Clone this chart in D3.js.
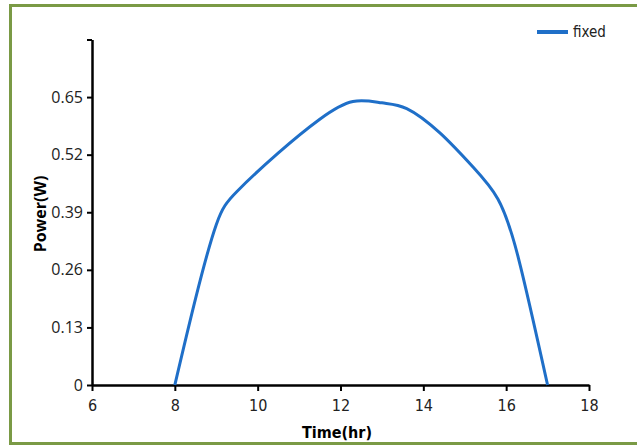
<!DOCTYPE html>
<html>
<head>
<meta charset="utf-8">
<script src="https://cdn.jsdelivr.net/npm/d3@7"></script>
<style>
  body { margin: 0; background: #fff; }
  .yax .tick text { font-family: "Open Sans", sans-serif; font-size: 16px; fill: #222; }
  .xax .tick text { font-family: "DejaVu Sans Condensed", "Open Sans", sans-serif; font-size: 16px; fill: #222; }
</style>
</head>
<body>
<div id="chart"></div>
<script>
// power curve
var hours = [8, 8.5, 9.0, 9.5, 10.5, 11.5, 12.3, 13.0, 13.6, 14.4, 15.2, 15.8, 16.3, 17]
var power = [0, 0.195, 0.362, 0.437, 0.524, 0.6, 0.64, 0.637, 0.624, 0.569, 0.492, 0.42, 0.285, 0]
var xTicks = [6, 8, 10, 12, 14, 16, 18]
var yTicks = [0, 0.13, 0.26, 0.39, 0.52, 0.65, 0.78]
var seriesName = 'fixed'

var width = 637, height = 446
var svg = d3.select('#chart')
    .append('svg')
    .attr('width', width)
    .attr('height', height)

// frame
svg.append('path')
    .attr('d', 'M637,5.5 H10.5 V443.5 H637')
    .attr('fill', 'none')
    .attr('stroke', '#7a9a45')
    .attr('stroke-width', 3)

var x = d3.scaleLinear().domain([6, 18]).range([92, 589])
var y = d3.scaleLinear().domain([0, 0.78]).range([385, 39.5])

svg.append('g')
    .attr('class', 'xax')
    .attr('transform', 'translate(0,385)')
    .call(d3.axisBottom(x).tickValues(xTicks).tickSize(6).tickPadding(9).tickSizeOuter(0))
svg.append('g')
    .attr('class', 'yax')
    .attr('transform', 'translate(92,0)')
    .call(d3.axisLeft(y).tickValues(yTicks).tickSize(5).tickPadding(4).tickSizeOuter(0)
        .tickFormat(d => d === 0.78 ? '' : (d === 0 ? '0' : d3.format('.2f')(d))))

svg.selectAll('.domain').attr('stroke', '#000').attr('stroke-width', 2.5)
svg.selectAll('.tick line').attr('stroke', '#000').attr('stroke-width', 2)

var line = d3.line()
    .x((d, i) => x(hours[i]))
    .y(d => y(d))
    .curve(d3.curveNatural)

svg.append('path')
    .datum(power)
    .attr('d', line)
    .attr('fill', 'none')
    .attr('stroke', '#1f6fc8')
    .attr('stroke-width', 3)

// axis titles
svg.append('text')
    .attr('x', 337)
    .attr('y', 438)
    .attr('text-anchor', 'middle')
    .style('font-family', '"DejaVu Sans Condensed", "Open Sans", sans-serif')
    .style('font-weight', 'bold')
    .style('font-size', '16px')
    .text('Time(hr)')

svg.append('text')
    .attr('transform', 'translate(46,214) rotate(-90)')
    .attr('text-anchor', 'middle')
    .style('font-family', '"Open Sans", sans-serif')
    .style('font-weight', 'bold')
    .style('font-size', '16px')
    .text('Power(W)')

// legend
svg.append('line')
    .attr('x1', 537).attr('x2', 568)
    .attr('y1', 32).attr('y2', 32)
    .attr('stroke', '#1f6fc8')
    .attr('stroke-width', 4)
svg.append('text')
    .attr('x', 573)
    .attr('y', 37)
    .style('font-family', '"DejaVu Sans Condensed", "Open Sans", sans-serif')
    .style('font-size', '15px')
    .style('fill', '#222')
    .text(seriesName)
</script>
</body>
</html>
